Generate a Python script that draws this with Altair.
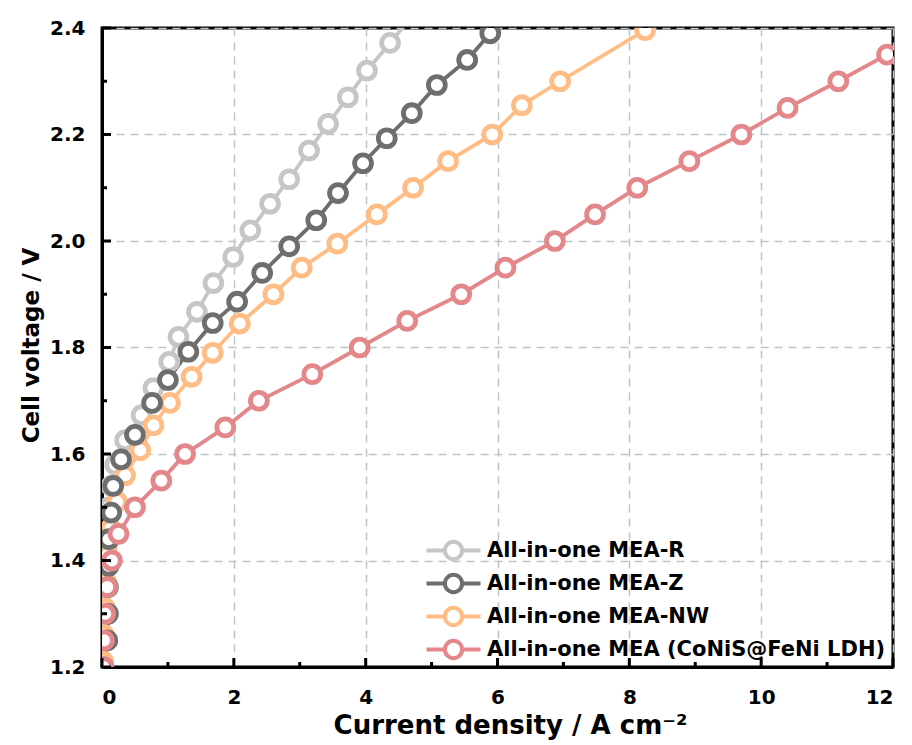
import altair as alt
import pandas as pd

# ---------------- data ----------------
series_names = ["All-in-one MEA-R", "All-in-one MEA-Z", "All-in-one MEA-NW",
                "All-in-one MEA (CoNiS@FeNi LDH)"]
series_colors = ["#c6c6c6", "#6e6e6e", "#ffbd85", "#e3878a"]
draw_order = ["All-in-one MEA-R", "All-in-one MEA-NW", "All-in-one MEA-Z",
              "All-in-one MEA (CoNiS@FeNi LDH)"]

current_r = [0.01, 0.02, 0.03, 0.04, 0.05, 0.07, 0.10, 0.14, 0.20, 0.35, 0.60, 0.78,
             1.02, 1.16, 1.44, 1.69, 1.99, 2.25, 2.55, 2.84, 3.14, 3.43, 3.73, 4.02,
             4.37, 4.72]
voltage_r = [1.20, 1.25, 1.30, 1.35, 1.40, 1.45, 1.50, 1.54, 1.58, 1.626, 1.673, 1.724,
             1.773, 1.82, 1.867, 1.921, 1.97, 2.02, 2.07, 2.116, 2.17, 2.22, 2.27, 2.32,
             2.372, 2.425]

current_z = [0.02, 0.08, 0.09, 0.09, 0.10, 0.10, 0.14, 0.17, 0.29, 0.50, 0.76, 1.00,
             1.31, 1.68, 2.05, 2.43, 2.84, 3.25, 3.58, 3.96, 4.32, 4.70, 5.08, 5.54, 5.89]
voltage_z = [1.20, 1.25, 1.30, 1.35, 1.39, 1.44, 1.49, 1.54, 1.59, 1.636, 1.696, 1.739,
             1.792, 1.846, 1.886, 1.94, 1.99, 2.039, 2.09, 2.146, 2.193, 2.24, 2.293, 2.34,
             2.39]

current_nw = [0.02, 0.03, 0.05, 0.06, 0.08, 0.13, 0.23, 0.35, 0.58, 0.78, 1.03, 1.36,
              1.68, 2.09, 2.60, 3.03, 3.57, 4.17, 4.72, 5.25, 5.92, 6.37, 6.95, 8.24]
voltage_nw = [1.21, 1.26, 1.31, 1.36, 1.41, 1.46, 1.51, 1.56, 1.607, 1.654, 1.696, 1.745,
              1.79, 1.845, 1.90, 1.95, 1.995, 2.05, 2.10, 2.15, 2.20, 2.255, 2.30, 2.396]

current_mea = [0.02, 0.03, 0.05, 0.08, 0.15, 0.25, 0.50, 0.90, 1.26, 1.87, 2.38, 3.19,
               3.91, 4.63, 5.45, 6.12, 6.87, 7.48, 8.12, 8.91, 9.70, 10.40, 11.17, 11.91]
voltage_mea = [1.20, 1.25, 1.30, 1.35, 1.40, 1.45, 1.50, 1.55, 1.60, 1.65, 1.70, 1.75,
               1.80, 1.85, 1.90, 1.95, 2.00, 2.05, 2.10, 2.15, 2.20, 2.25, 2.30, 2.35]

x_major = [0, 2, 4, 6, 8, 10, 12]
x_minor = [1, 3, 5, 7, 9, 11]
y_major = [1.2, 1.4, 1.6, 1.8, 2.0, 2.2, 2.4]
y_minor = [1.3, 1.5, 1.7, 1.9, 2.1, 2.3]

# ---------------- tables ----------------
raw = {
    "All-in-one MEA-R": (current_r, voltage_r),
    "All-in-one MEA-Z": (current_z, voltage_z),
    "All-in-one MEA-NW": (current_nw, voltage_nw),
    "All-in-one MEA (CoNiS@FeNi LDH)": (current_mea, voltage_mea),
}
rows = []
for name in draw_order:
    cur, vol = raw[name]
    for i, (c, v) in enumerate(zip(cur, vol)):
        rows.append({"series": name, "current": c, "voltage": v, "idx": i})
df = pd.DataFrame(rows)

W, H = 791, 639
FONT = "DejaVu Sans"
MAJOR_LEN, MINOR_LEN = 9, 5

xscale = alt.Scale(domain=[0, 12], nice=False, zero=False)
yscale = alt.Scale(domain=[1.2, 2.4], nice=False, zero=False)
color = alt.Color(
    "series:N",
    scale=alt.Scale(domain=series_names, range=series_colors),
    sort=series_names,
    legend=alt.Legend(
        orient="none", legendX=336, legendY=507, title=None, padding=0,
        symbolType="M-2,0L-0.64,0M0.64,0L2,0M-0.64,0A0.64,0.64,0,1,1,0.64,0A0.64,0.64,0,1,1,-0.64,0Z",
        symbolSize=729, symbolStrokeWidth=4, symbolFillColor="white", symbolOpacity=1,
        labelFont=FONT, labelFontWeight="bold", labelFontSize=21, labelColor="black",
        labelOffset=18, rowPadding=-3, labelLimit=600,
    ),
)

x_main = alt.X(
    "current:Q", scale=xscale,
    axis=alt.Axis(
        values=x_major, format="d", grid=True, gridDash=[8, 6], gridColor="#bcc5c5",
        gridWidth=1.5, ticks=False, tickSize=0, domainColor="black", domainWidth=3,
        labelFont=FONT, labelFontWeight="bold", labelFontSize=20, labelColor="black",
        labelPadding=20, title="Current density / A cm\u207b\u00b2", titleFont=FONT,
        titleFontWeight="bold", titleFontSize=26, titleColor="black",
        titleBaseline="alphabetic", titleX=408, titleY=66,
    ),
)
y_main = alt.Y(
    "voltage:Q", scale=yscale,
    axis=alt.Axis(
        values=y_major, format=".1f", grid=True, gridDash=[8, 6], gridColor="#bcc5c5",
        gridWidth=1.5, ticks=False, tickSize=0, domainColor="black", domainWidth=3,
        labelFont=FONT, labelFontWeight="bold", labelFontSize=20, labelColor="black",
        labelPadding=17, title="Cell voltage / V", titleFont=FONT,
        titleFontWeight="bold", titleFontSize=23, titleColor="black",
        titleBaseline="alphabetic", titleX=-64, titleY=317,
    ),
)

lines = alt.Chart(df).mark_line(strokeWidth=3.8, clip=True).encode(
    x=x_main, y=y_main, color=color, order="idx:Q", detail="series:N"
)
points = alt.Chart(df).mark_point(
    shape="circle", size=285, strokeWidth=4.8, fill="white", fillOpacity=1,
    opacity=1, clip=True
).encode(
    x=alt.X("current:Q", scale=xscale, axis=None),
    y=alt.Y("voltage:Q", scale=yscale, axis=None),
    color=color,
)


# inward ticks on the bottom and left frame edges
def x_ticks(values, length):
    return alt.Chart(pd.DataFrame({"v": values})).mark_tick(
        orient="vertical", color="black", thickness=3, size=length, opacity=1
    ).encode(
        x=alt.X("v:Q", scale=xscale, axis=None),
        y=alt.value(H - length / 2),
    )


def y_ticks(values, length):
    return alt.Chart(pd.DataFrame({"v": values})).mark_tick(
        orient="horizontal", color="black", thickness=3, size=length, opacity=1
    ).encode(
        y=alt.Y("v:Q", scale=yscale, axis=None),
        x=alt.value(length / 2),
    )


chart = alt.layer(
    lines, points,
    x_ticks(x_major, MAJOR_LEN), x_ticks(x_minor, MINOR_LEN),
    y_ticks(y_major, MAJOR_LEN), y_ticks(y_minor, MINOR_LEN),
).resolve_axis(x="independent", y="independent").properties(
    width=W, height=H,
    autosize=alt.AutoSizeParams(type="none"),
    padding={"left": 102, "top": 28, "right": 19, "bottom": 78},
    background="white",
).configure_view(stroke="black", strokeWidth=3)

chart.save("out.html", embed_options={"renderer": "svg", "actions": False})
